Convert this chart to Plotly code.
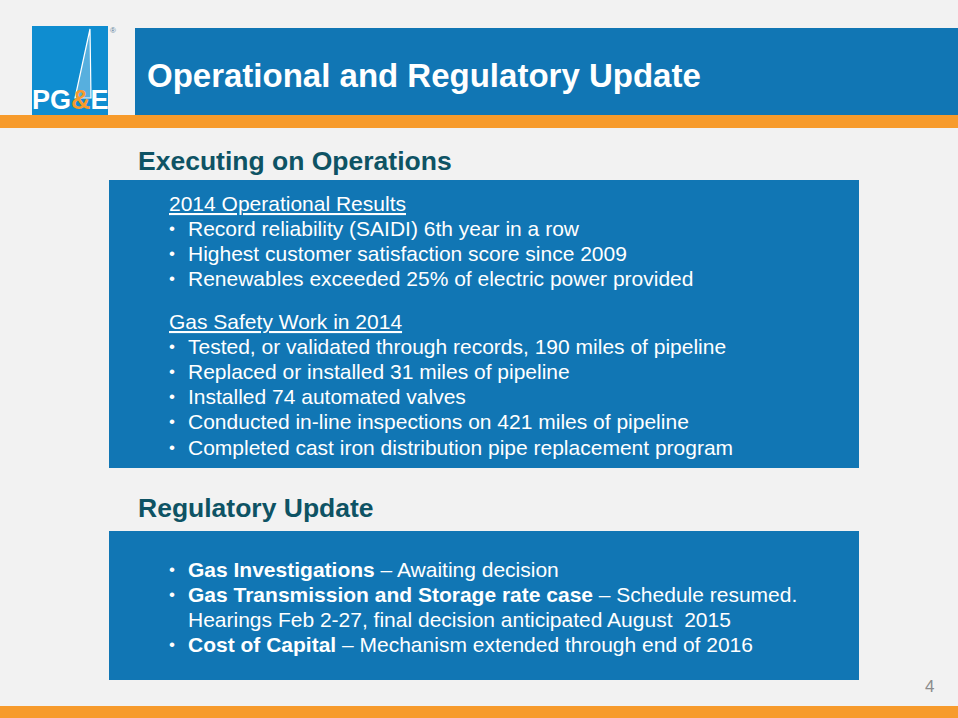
import plotly.graph_objects as go

W, H = 958, 718

titulo = "Operational and Regulatory Update"
secoes = ["Executing on Operations", "Regulatory Update"]

grupo1_titulo = "2014 Operational Results"
grupo1_itens = [
    "Record reliability (SAIDI) 6th year in a row",
    "Highest customer satisfaction score since 2009",
    "Renewables exceeded 25% of electric power provided",
]
grupo2_titulo = "Gas Safety Work in 2014"
grupo2_itens = [
    "Tested, or validated through records, 190 miles of pipeline",
    "Replaced or installed 31 miles of pipeline",
    "Installed 74 automated valves",
    "Conducted in-line inspections on 421 miles of pipeline",
    "Completed cast iron distribution pipe replacement program",
]
reg_negrito = ["Gas Investigations", "Gas Transmission and Storage rate case", "", "Cost of Capital"]
reg_texto = [
    " \u2013 Awaiting decision",
    " \u2013 Schedule resumed.",
    "Hearings Feb 2-27, final decision anticipated August  2015",
    " \u2013 Mechanism extended through end of 2016",
]
pagina = "4"

AZUL = "#1176b4"
AZUL_LOGO = "#0f8dd0"
LARANJA = "#f79b2c"
TEAL = "#0e5364"
FONTE = "Liberation Sans, Arial, sans-serif"

fig = go.Figure()

def retangulo(x0, y0, x1, y1, cor):
    fig.add_shape(type="rect", x0=x0, y0=y0, x1=x1, y1=y1,
                  fillcolor=cor, line=dict(width=0), layer="below")

def texto(x, y, t, tam, cor="white", anchor="left", vanchor="middle"):
    fig.add_annotation(x=x, y=y, text=t, showarrow=False, xanchor=anchor, yanchor=vanchor,
                       font=dict(family=FONTE, size=tam, color=cor))

# cabeçalho
retangulo(32, 26, 108, 115, AZUL_LOGO)
retangulo(135, 28, W, 115, AZUL)
retangulo(0, 115, W, 128, LARANJA)
retangulo(0, 706, W, 718, LARANJA)
fig.add_shape(type="path", path="M 90 29 L 75 98 L 91 98 Z",
              fillcolor="rgba(255,255,255,0.3)", line=dict(color="white", width=1.2))

# logo PG&E
texto(70, 100, "<b>PG<span style='color:%s'>&amp;</span>E</b>" % LARANJA, 27, "white", "center")
texto(113, 30, "\u00ae", 8, "#5a7d9a", "center")

texto(145, 75, "<b>%s</b>" % titulo, 33)

# seção 1
texto(136, 161, "<b>%s</b>" % secoes[0], 26.5, TEAL)
retangulo(109, 180, 859, 468, AZUL)

TAM = 21
passo = 25.2
y = 203
texto(167, y, "<u>%s</u>" % grupo1_titulo, TAM)
for item in grupo1_itens:
    y += passo
    texto(167, y, "\u2022", 17)
    texto(186, y, item, TAM)
y = 321
texto(167, y, "<u>%s</u>" % grupo2_titulo, TAM)
for item in grupo2_itens:
    y += passo
    texto(167, y, "\u2022", 17)
    texto(186, y, item, TAM)

# seção 2
texto(136, 508, "<b>%s</b>" % secoes[1], 26.5, TEAL)
retangulo(109, 531, 859, 680, AZUL)
y = 569
for negrito, resto in zip(reg_negrito, reg_texto):
    if negrito:
        texto(167, y, "\u2022", 17)
        texto(186, y, "<b>%s</b>%s" % (negrito, resto), TAM)
    else:
        texto(186, y, resto, TAM)
    y += 25.3

texto(929, 686, pagina, 17, "#8c8c8c", "center")

fig.update_xaxes(range=[0, W], visible=False, fixedrange=True)
fig.update_yaxes(range=[H, 0], visible=False, fixedrange=True)
fig.update_layout(width=W, height=H, margin=dict(l=0, r=0, t=0, b=0),
                  paper_bgcolor="#f2f2f2", plot_bgcolor="#f2f2f2", showlegend=False)

fig.write_html("out.html", config={"displayModeBar": False},
               post_script="document.body.style.margin='0px';")
